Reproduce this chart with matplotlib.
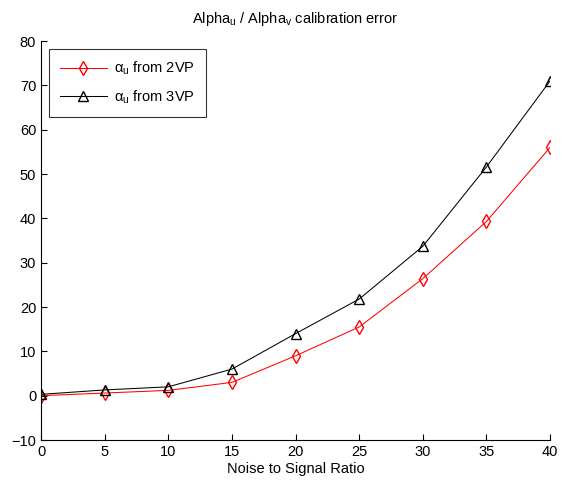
import matplotlib
matplotlib.use("Agg")
import matplotlib.pyplot as plt

# Data
noise_ratio = [0, 5, 10, 15, 20, 25, 30, 35, 40]
alpha_2vp = [0.0, 0.6, 1.2, 3.0, 9.0, 15.5, 26.4, 39.3, 56.0]
alpha_3vp = [0.3, 1.3, 2.0, 6.0, 14.0, 21.8, 33.7, 51.6, 71.0]

x_ticks = [0, 5, 10, 15, 20, 25, 30, 35, 40]
y_ticks = [-10, 0, 10, 20, 30, 40, 50, 60, 70, 80]

plt.rcParams['font.family'] = ['Liberation Sans', 'DejaVu Sans']
plt.rcParams['mathtext.fontset'] = 'custom'
plt.rcParams['mathtext.rm'] = 'Liberation Sans'
plt.rcParams['mathtext.it'] = 'Liberation Sans'

fig = plt.figure(figsize=(5.63, 4.83), dpi=100)
ax = fig.add_axes([0.073, 0.089, 0.904, 0.826])

ax.plot(noise_ratio, alpha_2vp, color='red', marker='d', markersize=7, markerfacecolor='none',
        markeredgecolor='red', linewidth=0.75, label=r'$\alpha_u$ from 2VP')
ax.plot(noise_ratio, alpha_3vp, color='black', marker='^', markersize=7, markerfacecolor='none',
        markeredgecolor='black', linewidth=0.75, label=r'$\alpha_u$ from 3VP')

ax.set_xlim(0, 40)
ax.set_ylim(-10, 80)
ax.set_xticks(x_ticks)
ax.set_yticks(y_ticks)

# MATLAB style: box off, inward ticks
ax.spines['top'].set_visible(False)
ax.spines['right'].set_visible(False)
ax.tick_params(direction='in', length=4, labelsize=10.5)

ax.set_title(r'Alpha$_u$ / Alpha$_v$ calibration error', fontsize=10.5, pad=13)
ax.set_xlabel('Noise to Signal Ratio', fontsize=10.5, labelpad=2)

leg = ax.legend(loc='upper left', fontsize=10.5, fancybox=False, edgecolor='black',
                borderaxespad=0.55, handlelength=3.2, labelspacing=0.75,
                borderpad=0.75, handletextpad=0.5)
leg.get_frame().set_linewidth(0.8)

fig.savefig('out.png', dpi=100)
